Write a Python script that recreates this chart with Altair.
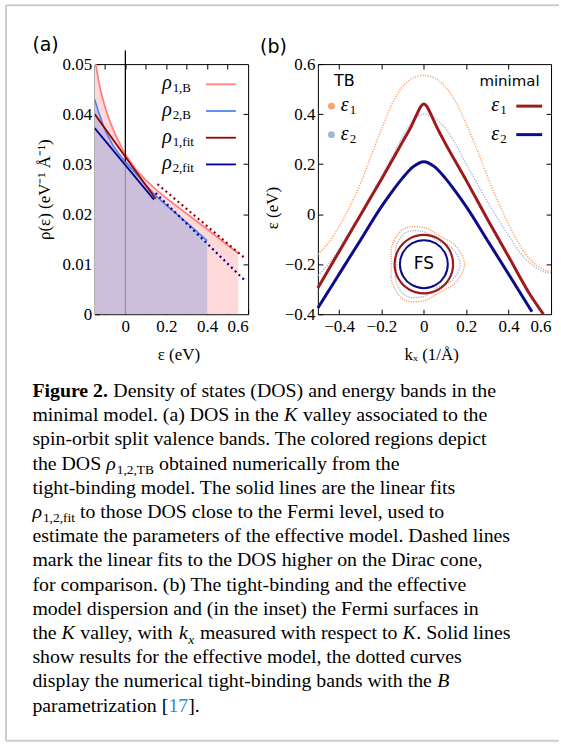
import altair as alt
import numpy as np
import pandas as pd

SERIF = "Liberation Serif"
SANS = "DejaVu Sans"

# ---------------- panel (a): density of states ----------------
eps_1B = [-0.15, -0.13, -0.12, -0.10, -0.08, -0.05, -0.02, 0.00, 0.05, 0.10, 0.15, 0.20, 0.30, 0.40, 0.50, 0.552]
rho_1B = [0.0512, 0.0465, 0.0445, 0.0415, 0.0390, 0.0360, 0.0335, 0.0320, 0.0290, 0.0268, 0.0249, 0.0232, 0.0201, 0.0170, 0.0138, 0.0122]
eps_2B = [-0.15, -0.13, -0.11, -0.09, -0.06, -0.03, 0.00, 0.05, 0.10, 0.15, 0.20, 0.30, 0.40]
rho_2B = [0.0430, 0.0403, 0.0380, 0.0360, 0.0337, 0.0320, 0.0305, 0.0282, 0.0258, 0.0236, 0.0218, 0.0183, 0.0147]
eps_1fit = [-0.15, 0.148]
rho_1fit = [0.0400, 0.0231]
eps_2fit = [-0.15, 0.140]
rho_2fit = [0.0372, 0.0229]
eps_1hi = [0.157, 0.584]
rho_1hi = [0.0260, 0.0112]
eps_2hi = [0.148, 0.580]
rho_2hi = [0.0242, 0.0069]
fermi_eps = 0.0
fermi_fill_top = 0.0305
fermi_line_top = 0.0527

legA_sub = ["1,B", "2,B", "1,fit", "2,fit"]
legA_col = ["#ff8080", "#4d84f0", "#9b0000", "#00008e"]

# ---------------- panel (b): bands ----------------
k_min1 = [-0.5, -0.4, -0.3, -0.2, -0.1, -0.06, -0.03, -0.015, 0.0, 0.015, 0.03, 0.06, 0.1, 0.2, 0.3, 0.4, 0.5, 0.564]
e_min1 = [-0.295, -0.15, -0.005, 0.14, 0.29, 0.35, 0.405, 0.43, 0.44, 0.43, 0.405, 0.35, 0.285, 0.135, -0.02, -0.17, -0.32, -0.40]
k_min2 = [-0.5, -0.4, -0.3, -0.2, -0.15, -0.1, -0.05, 0.0, 0.05, 0.1, 0.15, 0.2, 0.3, 0.4, 0.51]
e_min2 = [-0.375, -0.24, -0.105, 0.03, 0.09, 0.145, 0.19, 0.21, 0.19, 0.145, 0.09, 0.03, -0.105, -0.24, -0.39]
k_tb = [-0.5, -0.45, -0.4, -0.35, -0.3, -0.25, -0.2, -0.15, -0.1, -0.05, 0.0, 0.05, 0.1, 0.15, 0.2, 0.25, 0.3, 0.35, 0.4, 0.45, 0.5, 0.55, 0.6]
e_tb1 = [-0.16, -0.115, -0.05, 0.03, 0.12, 0.23, 0.34, 0.44, 0.51, 0.545, 0.555, 0.545, 0.51, 0.45, 0.36, 0.26, 0.15, 0.05, -0.04, -0.12, -0.18, -0.215, -0.23]
e_tb2 = [-0.245, -0.2, -0.14, -0.07, 0.0, 0.075, 0.15, 0.23, 0.31, 0.375, 0.40, 0.385, 0.345, 0.28, 0.2, 0.125, 0.05, -0.02, -0.085, -0.15, -0.195, -0.225, -0.235]

# Fermi-surface inset (radii in 1/Å of the inset, at polar angles)
fs_angle = [0, 30, 60, 90, 120, 150, 180, 210, 240, 270, 300, 330]
fs_r_min1 = [0.138] * 12
fs_r_min2 = [0.113] * 12
fs_r_tb1 = [0.192, 0.173, 0.152, 0.173, 0.192, 0.173, 0.152, 0.173, 0.192, 0.173, 0.152, 0.173]
fs_r_tb2 = [0.172, 0.153, 0.127, 0.153, 0.172, 0.153, 0.127, 0.153, 0.172, 0.153, 0.127, 0.153]
fs_center = (0.0, -0.2)

C_TB1, C_TB2 = "#ffa064", "#a3b7d6"
C_M1, C_M2 = "#9e1b1b", "#0b0b8c"

# ---------------- caption (a leading space marks a word gap) ----------------
caption = [
    [("Figure 2.", "bold"), (" Density of states (DOS) and energy bands in the", "roman")],
    [("minimal model. (a) DOS in the", "roman"), (" K", "italic"), (" valley associated to the", "roman")],
    [("spin-orbit split valence bands. The colored regions depict", "roman")],
    [("the DOS", "roman"), (" ρ", "italic"), ("1,2,TB", "sub"), (" obtained numerically from the", "roman")],
    [("tight-binding model. The solid lines are the linear fits", "roman")],
    [("ρ", "italic"), ("1,2,fit", "sub"), (" to those DOS close to the Fermi level, used to", "roman")],
    [("estimate the parameters of the effective model. Dashed lines", "roman")],
    [("mark the linear fits to the DOS higher on the Dirac cone,", "roman")],
    [("for comparison. (b) The tight-binding and the effective", "roman")],
    [("model dispersion and (in the inset) the Fermi surfaces in", "roman")],
    [("the", "roman"), (" K", "italic"), (" valley, with", "roman"), (" k", "italic"), ("x", "subitalic"),
     (" measured with respect to", "roman"), (" K", "italic"), (". Solid lines", "roman")],
    [("show results for the effective model, the dotted curves", "roman")],
    [("display the numerical tight-binding bands with the", "roman"), (" B", "italic")],
    [("parametrization [", "roman"), ("17", "link"), ("].", "roman")],
]

# Times-compatible advance widths (1/1000 em) used to place caption segments
_ROMAN = {" ": 250, "!": 333, "(": 333, ")": 333, ",": 250, "-": 333, ".": 250, "[": 333, "]": 333,
          ":": 278, ";": 278, "/": 278,
          "A": 722, "B": 667, "C": 667, "D": 722, "E": 611, "F": 556, "G": 722, "H": 722, "I": 333,
          "J": 389, "K": 722, "L": 611, "M": 889, "N": 722, "O": 722, "P": 556, "Q": 722, "R": 667,
          "S": 556, "T": 611, "U": 722, "V": 722, "W": 944, "X": 722, "Y": 722, "Z": 611,
          "a": 444, "b": 500, "c": 444, "d": 500, "e": 444, "f": 333, "g": 500, "h": 500, "i": 278,
          "j": 278, "k": 500, "l": 278, "m": 778, "n": 500, "o": 500, "p": 500, "q": 500, "r": 333,
          "s": 389, "t": 278, "u": 500, "v": 500, "w": 722, "x": 500, "y": 500, "z": 444}
_BOLD = {"F": 611, "i": 278, "g": 500, "u": 556, "r": 444, "e": 444, " ": 250, ".": 250}
_ITAL = {"K": 667, "k": 444, "x": 444, "B": 611, "ρ": 500, " ": 250}

# ---------------- layout ----------------
A_LEFT, TOP = 94, 62
WA, WB, H = 154, 234, 251
GAP = 70
B_LEFT = A_LEFT + WA + GAP
CAP_TOP = 370
CAP_LEFT = 31.5
CAP_BASE0, CAP_LEAD = 396, 24.3
CAP_FS = 19.9
SUB_FS = 13.5

xA = alt.Scale(domain=[-0.15, 0.6], nice=False, zero=False)
yA = alt.Scale(domain=[0, 0.05], nice=False, zero=False)
xB = alt.Scale(domain=[-0.5, 0.6], nice=False, zero=False)
yB = alt.Scale(domain=[-0.4, 0.6], nice=False, zero=False)


def axis(orient, values, labels=True, labelExpr=None, title=None, **kw):
    d = dict(orient=orient, values=values, domain=False, grid=False, ticks=True, tickSize=5,
             tickColor="black", tickWidth=1, offset=-5, labels=labels, title=title)
    if labels:
        d.update(labelFont=SERIF, labelFontSize=17, labelColor="black")
        if labelExpr:
            d["labelExpr"] = labelExpr
    if title:
        d.update(titleFont=SERIF, titleFontSize=17, titleColor="black", titleFontWeight="normal",
                 titleAlign="center", titleBaseline="middle")
    d.update(kw)
    return alt.Axis(**d)


def one():
    return pd.DataFrame({"d": [0]})


# ======== panel (a) ========
dA1 = pd.DataFrame({"eps": eps_1B, "rho": rho_1B})
dA2 = pd.DataFrame({"eps": eps_2B, "rho": rho_2B})

xlabA = "datum.value == 0 ? '0' : (abs(round(datum.value * 10)) % 2 == 0 ? format(datum.value, '.1f') : '')"
ylabA = "datum.value == 0 ? '0' : format(datum.value, '.2f')"

areaP = alt.Chart(dA1).mark_area(color="#ffd9d9", clip=True).encode(
    x=alt.X("eps:Q", scale=xA, axis=axis("bottom", [-0.1, 0, 0.1, 0.2, 0.3, 0.4, 0.5, 0.6], labelExpr=xlabA,
                                          title="ε (eV)", labelPadding=4, titleX=84, titleY=45)),
    y=alt.Y("rho:Q", scale=yA, axis=axis("left", [0, 0.01, 0.02, 0.03, 0.04, 0.05], labelExpr=ylabA,
                                          title="ρ(ε) (eV⁻¹ Å⁻¹)", labelPadding=3, titleX=-55, titleY=125.5,
                                          titleAngle=270)),
)
areaV = alt.Chart(dA2).mark_area(color="#cbbfdc", clip=True).encode(
    x=alt.X("eps:Q", scale=xA, axis=axis("top", [-0.1, 0, 0.1, 0.2, 0.3, 0.4, 0.5], labels=False)),
    y=alt.Y("rho:Q", scale=yA, axis=axis("right", [0.01, 0.02, 0.03, 0.04], labels=False)),
)
dRule = pd.DataFrame({"eps": [fermi_eps, fermi_eps], "y0": [0, fermi_fill_top],
                      "y1": [fermi_fill_top, fermi_line_top], "c": ["#8c8596", "black"]})
ruleA = alt.Chart(dRule).mark_rule(strokeWidth=1).encode(
    x=alt.X("eps:Q", scale=xA, axis=None), y=alt.Y("y0:Q", scale=yA, axis=None), y2="y1:Q",
    color=alt.Color("c:N", scale=None))


def lineA(xs, ys, color, width=1.6, dash=None):
    kw = dict(color=color, strokeWidth=width, clip=True)
    if dash:
        kw["strokeDash"] = dash
    return alt.Chart(pd.DataFrame({"eps": xs, "rho": ys})).mark_line(**kw).encode(
        x=alt.X("eps:Q", scale=xA, axis=None), y=alt.Y("rho:Q", scale=yA, axis=None))


l1B = lineA(eps_1B, rho_1B, legA_col[0], 1.8)
l2B = lineA(eps_2B, rho_2B, legA_col[1], 1.6)
l1f = lineA(eps_1fit, rho_1fit, legA_col[2], 1.7)
l2f = lineA(eps_2fit, rho_2fit, legA_col[3], 1.7)
l1h = lineA(eps_1hi, rho_1hi, legA_col[2], 2.2, [2, 3.3])
l2h = lineA(eps_2hi, rho_2hi, legA_col[3], 2.2, [2, 3.3])

legA_y = [0.04596 - i * 0.00534 for i in range(4)]
dLegA = pd.DataFrame({"sub": legA_sub, "c": legA_col, "y": legA_y,
                      "xt": [0.180] * 4, "x0": [0.394] * 4, "x1": [0.540] * 4, "rho": ["ρ"] * 4})
legA_lines = alt.Chart(dLegA).mark_rule(strokeWidth=1.8).encode(
    x=alt.X("x0:Q", scale=xA, axis=None), x2="x1:Q", y=alt.Y("y:Q", scale=yA, axis=None),
    color=alt.Color("c:N", scale=None))
legA_rho = alt.Chart(dLegA).mark_text(font=SERIF, fontSize=20, fontStyle="italic", align="left",
                                      baseline="middle", dy=-1).encode(
    x=alt.X("xt:Q", scale=xA, axis=None), y=alt.Y("y:Q", scale=yA, axis=None), text="rho:N")
legA_sub_t = alt.Chart(dLegA).mark_text(font=SERIF, fontSize=13, align="left", baseline="middle",
                                        dx=10.5, dy=4).encode(
    x=alt.X("xt:Q", scale=xA, axis=None), y=alt.Y("y:Q", scale=yA, axis=None), text="sub:N")
labA = alt.Chart(one()).mark_text(text="(a)", font=SANS, fontSize=19, align="left", baseline="middle").encode(
    x=alt.value(31.5 - A_LEFT), y=alt.value(43 - TOP))

panelA = alt.layer(areaP, areaV, ruleA, l1B, l2B, l1f, l2f, l1h, l2h, ruleA.transform_filter("datum.c == 'black'"),
                   legA_lines, legA_rho, legA_sub_t, labA).resolve_axis(
    x="independent", y="independent").properties(width=WA, height=H)

# ======== panel (b) ========
ylabB = "datum.value == 0 ? '0' : format(datum.value, '.1f')"


def lineB(xs, ys, color, width, dash=None, xaxis=None, yaxis=None, interp="monotone"):
    kw = dict(color=color, strokeWidth=width, interpolate=interp)
    if dash:
        kw["strokeDash"] = dash
    return alt.Chart(pd.DataFrame({"k": xs, "e": ys})).mark_line(**kw).encode(
        x=alt.X("k:Q", scale=xB, axis=xaxis), y=alt.Y("e:Q", scale=yB, axis=yaxis))


tb1 = lineB(k_tb, e_tb1, C_TB1, 1.5, [1.2, 1.4],
            xaxis=axis("bottom", [-0.4, -0.2, 0, 0.2, 0.4, 0.6], labelExpr=ylabB, title="kₓ (1/Å)",
                       labelPadding=4, titleX=113.7, titleY=45),
            yaxis=axis("left", [-0.4, -0.2, 0, 0.2, 0.4, 0.6], labelExpr=ylabB, title="ε (eV)",
                       labelPadding=3, titleX=-51, titleY=144, titleAngle=270))
tb2 = lineB(k_tb, e_tb2, C_TB2, 1.5, [1.2, 1.4],
            xaxis=axis("top", [-0.4, -0.2, 0, 0.2, 0.4], labels=False),
            yaxis=axis("right", [-0.2, 0, 0.2, 0.4], labels=False))
m1 = lineB(k_min1, e_min1, C_M1, 3)
m2 = lineB(k_min2, e_min2, C_M2, 3)

aspect = (WB / 1.1) / (H / 1.0)
fs_rows = []
for name, radii in [("tb1", fs_r_tb1), ("tb2", fs_r_tb2), ("m1", fs_r_min1), ("m2", fs_r_min2)]:
    for i, (a, r) in enumerate(zip(fs_angle, radii)):
        t = np.deg2rad(a)
        fs_rows.append({"s": name, "i": i, "k": fs_center[0] + r * np.cos(t),
                        "e": fs_center[1] + r * np.sin(t) * aspect})
dFS = pd.DataFrame(fs_rows)


def fsline(name, color, width, dash=None):
    kw = dict(color=color, strokeWidth=width, interpolate="cardinal-closed")
    if dash:
        kw["strokeDash"] = dash
    return alt.Chart(dFS).transform_filter(f"datum.s == '{name}'").mark_line(**kw).encode(
        x=alt.X("k:Q", scale=xB, axis=None), y=alt.Y("e:Q", scale=yB, axis=None), order="i:Q")


fs1 = fsline("tb1", C_TB1, 1.4, [1.2, 1.2])
fs2 = fsline("tb2", C_TB2, 1.4, [1.2, 1.2])
fs3 = fsline("m1", C_M1, 2.2)
fs4 = fsline("m2", C_M2, 2.0)
fsText = alt.Chart(pd.DataFrame({"k": [fs_center[0]], "e": [fs_center[1]], "t": ["FS"]})).mark_text(
    font=SANS, fontSize=17, align="center", baseline="middle").encode(
    x=alt.X("k:Q", scale=xB, axis=None), y=alt.Y("e:Q", scale=yB, axis=None), text="t:N")

legB_rows = [0.432, 0.318]
dLegB = pd.DataFrame({"y": legB_rows, "eps": ["ε", "ε"], "n": ["1", "2"], "c_tb": [C_TB1, C_TB2],
                      "c_m": [C_M1, C_M2], "xd": [-0.436] * 2, "xt": [-0.392] * 2, "xm": [0.318] * 2,
                      "x0": [0.436] * 2, "x1": [0.558] * 2})
enc_y = alt.Y("y:Q", scale=yB, axis=None)
legB_dots = alt.Chart(dLegB).mark_point(filled=True, size=48, opacity=1).encode(
    x=alt.X("xd:Q", scale=xB, axis=None), y=enc_y, color=alt.Color("c_tb:N", scale=None))
legB_e1 = alt.Chart(dLegB).mark_text(font=SERIF, fontSize=20, fontStyle="italic", align="left",
                                     baseline="middle", dy=-1).encode(
    x=alt.X("xt:Q", scale=xB, axis=None), y=enc_y, text="eps:N")
legB_n1 = alt.Chart(dLegB).mark_text(font=SERIF, fontSize=13, align="left", baseline="middle",
                                     dx=9, dy=4).encode(
    x=alt.X("xt:Q", scale=xB, axis=None), y=enc_y, text="n:N")
legB_e2 = legB_e1.encode(x=alt.X("xm:Q", scale=xB, axis=None))
legB_n2 = legB_n1.encode(x=alt.X("xm:Q", scale=xB, axis=None))
legB_lines = alt.Chart(dLegB).mark_rule(strokeWidth=3).encode(
    x=alt.X("x0:Q", scale=xB, axis=None), x2="x1:Q", y=enc_y, color=alt.Color("c_m:N", scale=None))
dHead = pd.DataFrame({"x": [-0.424, 0.546], "y": [0.532, 0.532], "t": ["TB", "minimal"]})
headTB = alt.Chart(dHead.iloc[[0]]).mark_text(font=SANS, fontSize=16, align="left", baseline="middle").encode(
    x=alt.X("x:Q", scale=xB, axis=None), y=alt.Y("y:Q", scale=yB, axis=None), text="t:N")
headM = alt.Chart(dHead.iloc[[1]]).mark_text(font=SANS, fontSize=15, align="right", baseline="middle").encode(
    x=alt.X("x:Q", scale=xB, axis=None), y=alt.Y("y:Q", scale=yB, axis=None), text="t:N")
labB = alt.Chart(one()).mark_text(text="(b)", font=SANS, fontSize=19, align="left", baseline="middle").encode(
    x=alt.value(260 - B_LEFT), y=alt.value(45 - TOP))

panelB = alt.layer(tb1, tb2, m1, m2, fs1, fs2, fs3, fs4, fsText, legB_dots, legB_e1, legB_n1,
                   legB_e2, legB_n2, legB_lines, headTB, headM, labB).resolve_axis(
    x="independent", y="independent").properties(width=WB, height=H)

# ======== caption ========
style_kw = {
    "roman": dict(font=SERIF, fontSize=CAP_FS),
    "bold": dict(font=SERIF, fontSize=CAP_FS, fontWeight="bold"),
    "italic": dict(font=SERIF, fontSize=CAP_FS, fontStyle="italic"),
    "sub": dict(font=SERIF, fontSize=SUB_FS, dy=4.5),
    "subitalic": dict(font=SERIF, fontSize=SUB_FS, fontStyle="italic", dy=4.5),
    "link": dict(font=SERIF, fontSize=CAP_FS, color="#2d8bc2"),
}
style_size = {"roman": CAP_FS, "bold": CAP_FS, "italic": CAP_FS, "link": CAP_FS,
              "sub": SUB_FS, "subitalic": SUB_FS}
style_table = {"bold": _BOLD, "italic": _ITAL, "subitalic": _ITAL}


def text_width(txt, st):
    table = style_table.get(st, _ROMAN)
    return sum(table.get(ch, _ROMAN.get(ch, 500)) for ch in txt) / 1000.0 * style_size[st]


rows = []
for li, segs in enumerate(caption):
    x = CAP_LEFT
    for txt, st in segs:
        if txt.startswith(" "):
            x += 0.25 * CAP_FS
            txt = txt[1:]
        rows.append({"t": txt, "st": st, "px": x - A_LEFT, "py": CAP_BASE0 + li * CAP_LEAD - CAP_TOP})
        x += text_width(txt, st) + (0.6 if st in ("italic", "subitalic") else 0)
dCap = pd.DataFrame(rows)
cap_layers = []
for st, kw in style_kw.items():
    kw = dict(kw)
    kw.setdefault("color", "black")
    cap_layers.append(alt.Chart(dCap).transform_filter(f"datum.st == '{st}'").mark_text(
        align="left", baseline="alphabetic", **kw).encode(
        x=alt.X("px:Q", scale=None, axis=None), y=alt.Y("py:Q", scale=None, axis=None), text="t:N"))

FR = "#cdcdcd"
frame_left = alt.Chart(one()).mark_rule(color=FR, strokeWidth=2).encode(
    x=alt.value(5 - A_LEFT), y=alt.value(3 - CAP_TOP), y2=alt.value(741 - CAP_TOP))
frame_top = alt.Chart(one()).mark_rule(color=FR, strokeWidth=2).encode(
    x=alt.value(5 - A_LEFT), x2=alt.value(560 - A_LEFT), y=alt.value(3 - CAP_TOP))
frame_bot = alt.Chart(one()).mark_rule(color=FR, strokeWidth=2).encode(
    x=alt.value(5 - A_LEFT), x2=alt.value(560 - A_LEFT), y=alt.value(741 - CAP_TOP))

captionChart = alt.layer(*cap_layers, frame_left, frame_top, frame_bot).properties(
    width=WA, height=360, view=alt.ViewBackground(stroke="transparent"))

chart = alt.concat(panelA, panelB, captionChart, columns=2, bounds="flush",
                   spacing={"row": CAP_TOP - TOP - H, "column": GAP}).configure_view(
    stroke="black", strokeWidth=1).configure_axis(labelFont=SERIF, titleFont=SERIF).properties(
    padding={"left": 4, "top": 2, "right": 0, "bottom": 0}, background="white")

chart.save("out.html", embed_options={"renderer": "svg", "actions": False})
